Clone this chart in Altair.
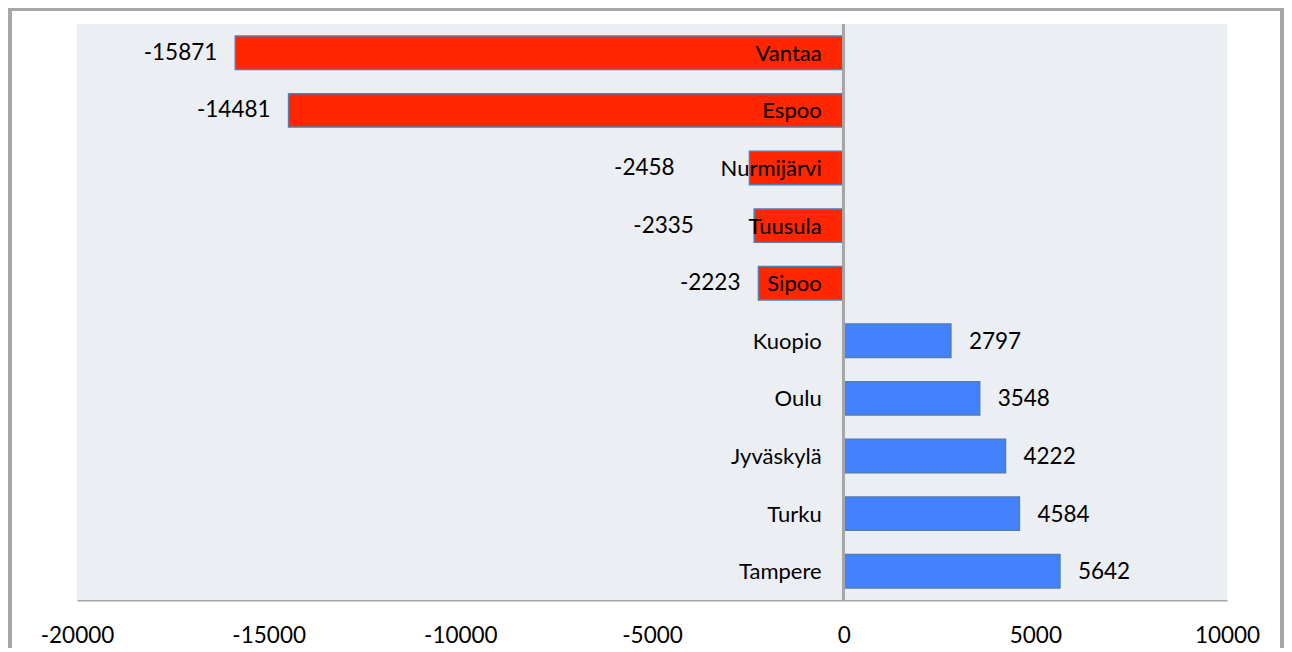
import altair as alt
import pandas as pd

cities = ["Vantaa", "Espoo", "Nurmijärvi", "Tuusula", "Sipoo",
          "Kuopio", "Oulu", "Jyväskylä", "Turku", "Tampere"]
values = [-15871, -14481, -2458, -2335, -2223, 2797, 3548, 4222, 4584, 5642]
x_ticks = [-20000, -15000, -10000, -5000, 0, 5000, 10000]

df = pd.DataFrame({"city": cities, "value": values})
df["sign"] = ["neg" if v < 0 else "pos" for v in values]

FONT = "Lato"
W, H = 1150, 576
SPAN = 30000.0

xs = alt.Scale(domain=[-20000, 10000], nice=False, zero=False)
ys = alt.Scale(domain=cities, paddingInner=0.42, paddingOuter=0.21)

base = alt.Chart(df)

panel = base.mark_rect(fill="#EBEEF3").encode(
    x=alt.value(0), x2=alt.value(W), y=alt.value(0), y2=alt.value(H)
)

bars = base.mark_bar(stroke="#4F7DB5", strokeWidth=1.5).encode(
    x=alt.X("value:Q", scale=xs,
            axis=alt.Axis(values=x_ticks, title=None, grid=False, ticks=False,
                          domain=True, domainColor="#A6A6A6", domainWidth=2,
                          labelFont=FONT, labelFontSize=22.5, labelColor="#000000",
                          labelPadding=24, labelFlush=False,
                          labelExpr="'' + datum.value")),
    y=alt.Y("city:N", scale=ys, axis=None),
    color=alt.Color("sign:N", scale=alt.Scale(domain=["neg", "pos"],
                                              range=["#FF2600", "#4382FF"]),
                    legend=None),
)

zero = base.mark_rule(color="#A6A6A6", strokeWidth=2).encode(
    x=alt.datum(0, scale=xs), y=alt.value(0), y2=alt.value(H)
)

names = base.mark_text(align="right", baseline="middle", dx=-22, dy=1,
                       font=FONT, fontSize=22, color="#000000").encode(
    x=alt.datum(0), y=alt.Y("city:N", scale=ys), text="city:N"
)

# negative value labels: pushed left of the city name when the name overflows the bar
neg_vals = base.transform_filter("datum.value < 0").transform_calculate(
    label="'' + datum.value",
    namew="length(datum.city) * 10.4",
    shiftw="length(datum.city) * 6.4 + 38",
    lx=f"(datum.namew + 22) > (-datum.value * {W} / {SPAN}) ? "
       f"-(datum.shiftw + 49) * {SPAN} / {W} : datum.value",
).mark_text(
    align="right", baseline="middle", dx=-18, dy=0,
    font=FONT, fontSize=22.5, color="#000000").encode(
    x=alt.X("lx:Q", scale=xs), y=alt.Y("city:N", scale=ys), text="label:N"
)

pos_vals = base.transform_filter("datum.value > 0").transform_calculate(
    label="'' + datum.value"
).mark_text(
    align="left", baseline="middle", dx=18, dy=1,
    font=FONT, fontSize=22.5, color="#000000").encode(
    x="value:Q", y=alt.Y("city:N", scale=ys), text="label:N"
)

border = base.mark_rect(fill=None, stroke="#A6A6A6", strokeWidth=3, clip=False).encode(
    x=alt.value(-67), x2=alt.value(W + 55), y=alt.value(-15), y2=alt.value(H + 80)
)

chart = alt.layer(panel, border, bars, zero, names, neg_vals, pos_vals).properties(
    width=W, height=H,
    padding={"left": 69, "top": 16, "right": 57, "bottom": 48},
    autosize=alt.AutoSizeParams(type="none"),
    background="#FFFFFF",
).configure_view(strokeWidth=0)

chart.save("out.html", embed_options={"renderer": "svg", "actions": False})
